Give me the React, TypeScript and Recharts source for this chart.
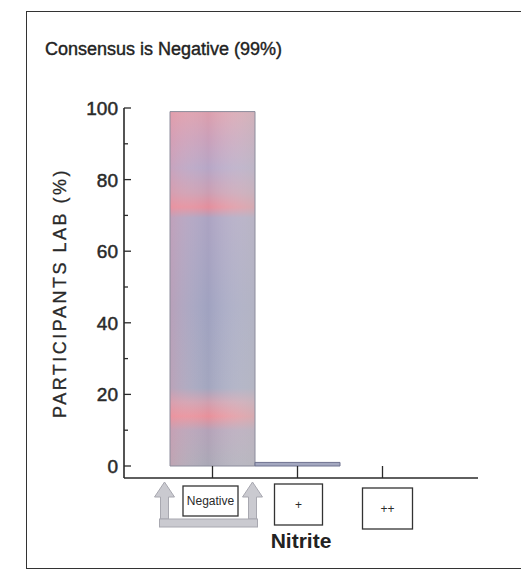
import { BarChart, Bar, XAxis, YAxis, Cell } from 'recharts'

const TITLE = 'Consensus is Negative (99%)'
const Y_LABEL = 'PARTICIPANTS LAB (%)'
const X_LABEL = 'Nitrite'
const CATEGORIES = ['Negative', '+', '++']
const PERCENT = [99, 1, 0]
const Y_TICKS = [0, 10, 20, 30, 40, 50, 60, 70, 80, 90, 100]
const Y_LABELED = [0, 20, 40, 60, 80, 100]

const data = CATEGORIES.map((name, i) => ({ name, value: PERCENT[i] }))

const FONT = "'Liberation Sans', Arial, sans-serif"
const NARROW = "'Liberation Sans Narrow', 'Liberation Sans', Arial, sans-serif"
const INK = '#2a2a2a'

// label boxes under each category (size + small offsets seen in the scan)
const BOX: Record<string, { w: number; h: number; dx: number; dy: number }> = {
    Negative: { w: 55, h: 30, dx: -2, dy: 8 },
    '+': { w: 48, h: 41, dx: 1, dy: 6 },
    '++': { w: 50, h: 41, dx: 5, dy: 10 },
}

function YTick({ x, y, payload }: any) {
    const v = payload.value
    const major = Y_LABELED.includes(v)
    return (
        <g>
            <line x1={x} x2={x + (major ? 7 : 4)} y1={y} y2={y} stroke={INK} strokeWidth={1.3} />
            {major && (
                <text
                    x={x - 6}
                    y={y}
                    dy={7}
                    textAnchor="end"
                    fontSize={19}
                    fontFamily={NARROW}
                    fill={INK}
                    stroke={INK}
                    strokeWidth={0.5}
                >
                    {v}
                </text>
            )}
        </g>
    )
}

function Arrows({ cx, y }: { cx: number; y: number }) {
    const left = cx - 48
    const right = cx + 40
    const arrow = (ax: number) =>
        `M${ax} ${y + 4} L${ax + 10} ${y + 19} L${ax + 4} ${y + 19} L${ax + 4} ${y + 41} L${ax - 4} ${y + 41} L${ax - 4} ${y + 19} L${ax - 10} ${y + 19} Z`
    return (
        <g fill="#cacad0" stroke="#a8a8b0" strokeWidth={1}>
            <path d={arrow(left)} />
            <path d={arrow(right)} />
            <rect x={left - 5} y={y + 41} width={right - left + 10} height={8} />
        </g>
    )
}

function XTick({ x, y, payload }: any) {
    const b = BOX[payload.value] ?? { w: 48, h: 40, dx: 0, dy: 8 }
    const bx = x + b.dx - b.w / 2
    const by = y + b.dy
    return (
        <g>
            <line x1={x} x2={x} y1={y} y2={y - 12} stroke={INK} strokeWidth={1.3} />
            {payload.value === 'Negative' && <Arrows cx={x} y={y} />}
            <rect x={bx} y={by} width={b.w} height={b.h} fill="#fff" stroke="#333" strokeWidth={1.3} />
            <text
                x={bx + b.w / 2}
                y={by + b.h / 2}
                dy={4}
                textAnchor="middle"
                fontSize={payload.value.length > 2 ? 12 : 12}
                fontFamily={NARROW}
                fill={INK}
            >
                {payload.value}
            </text>
        </g>
    )
}

function YLabel({ viewBox }: any) {
    const cy = viewBox.y + viewBox.height / 2
    return (
        <text
            x={60}
            y={cy}
            transform={`rotate(-90 60 ${cy})`}
            textAnchor="middle"
            dominantBaseline="central"
            fontSize={18}
            letterSpacing={2.5}
            fontFamily={FONT}
            fill={INK}
            stroke={INK}
            strokeWidth={0.3}
        >
            {Y_LABEL}
        </text>
    )
}

export default function App() {
    return (
        <div style={{ position: 'absolute', left: 0, top: 0, width: 521, height: 574, overflow: 'hidden', background: '#fff' }}>
            <div
                style={{
                    position: 'absolute',
                    left: 26,
                    top: 11,
                    width: 600,
                    height: 556,
                    borderLeft: '1.5px solid #333',
                    borderTop: '1.5px solid #333',
                    borderBottom: '1.5px solid #333',
                }}
            />
            <div
                style={{
                    position: 'absolute',
                    left: 45,
                    top: 40,
                    fontFamily: FONT,
                    fontSize: 18,
                    lineHeight: 1,
                    color: '#222',
                    WebkitTextStroke: '0.4px #222',
                }}
            >
                {TITLE}
            </div>
            <div style={{ position: 'absolute', left: 0, top: 0 }}>
                <BarChart
                    width={521}
                    height={574}
                    data={data}
                    margin={{ top: 108, right: 43, left: 0, bottom: 21 }}
                    barCategoryGap={0}
                >
                    <defs>
                        <linearGradient id="vGrad" x1="0" y1="0" x2="0" y2="1">
                            <stop offset="0%" stopColor="#dc9eac" />
                            <stop offset="8%" stopColor="#c9a0ba" />
                            <stop offset="16%" stopColor="#b6a6c6" />
                            <stop offset="23%" stopColor="#cc9eb2" />
                            <stop offset="27%" stopColor="#e48e9c" />
                            <stop offset="30%" stopColor="#aca3c2" />
                            <stop offset="55%" stopColor="#a0a2c0" />
                            <stop offset="78%" stopColor="#a3a6bf" />
                            <stop offset="82%" stopColor="#cfa0b0" />
                            <stop offset="86%" stopColor="#e8909a" />
                            <stop offset="90%" stopColor="#b4a2b8" />
                            <stop offset="100%" stopColor="#aaa8b6" />
                        </linearGradient>
                        <linearGradient id="hGrad" x1="0" y1="0" x2="1" y2="0">
                            <stop offset="0%" stopColor="#f09aa8" stopOpacity={0.3} />
                            <stop offset="45%" stopColor="#ffffff" stopOpacity={0} />
                            <stop offset="100%" stopColor="#c4c4c6" stopOpacity={0.5} />
                        </linearGradient>
                        <pattern id="barFill" width="1" height="1" patternContentUnits="objectBoundingBox">
                            <rect x="0" y="0" width="1" height="1" fill="url(#vGrad)" />
                            <rect x="0" y="0" width="1" height="1" fill="url(#hGrad)" />
                        </pattern>
                    </defs>
                    <XAxis
                        dataKey="name"
                        height={75}
                        padding={{ left: 46, right: 53 }}
                        axisLine={{ stroke: INK, strokeWidth: 1.6 }}
                        tickLine={false}
                        tickSize={0}
                        tickMargin={0}
                        interval={0}
                        tick={<XTick />}
                        label={{
                            value: X_LABEL,
                            position: 'insideBottom',
                            offset: 5,
                            style: { fontFamily: NARROW, fontSize: 21, fontWeight: 'bold', fill: '#222' },
                        }}
                    />
                    <YAxis
                        width={124}
                        domain={[0, 100]}
                        ticks={Y_TICKS}
                        interval={0}
                        padding={{ top: 0, bottom: 12 }}
                        axisLine={{ stroke: INK, strokeWidth: 1.6 }}
                        tickLine={false}
                        tickSize={0}
                        tickMargin={0}
                        tick={<YTick />}
                        label={<YLabel />}
                    />
                    <Bar dataKey="value" isAnimationActive={false} stroke="#8c8c9c" strokeWidth={1}>
                        {data.map((d, i) => (
                            <Cell key={d.name} fill={i === 0 ? 'url(#barFill)' : '#a4a8c0'} stroke={i === 0 ? '#8c8c9c' : '#6f7390'} />
                        ))}
                    </Bar>
                </BarChart>
            </div>
        </div>
    )
}
